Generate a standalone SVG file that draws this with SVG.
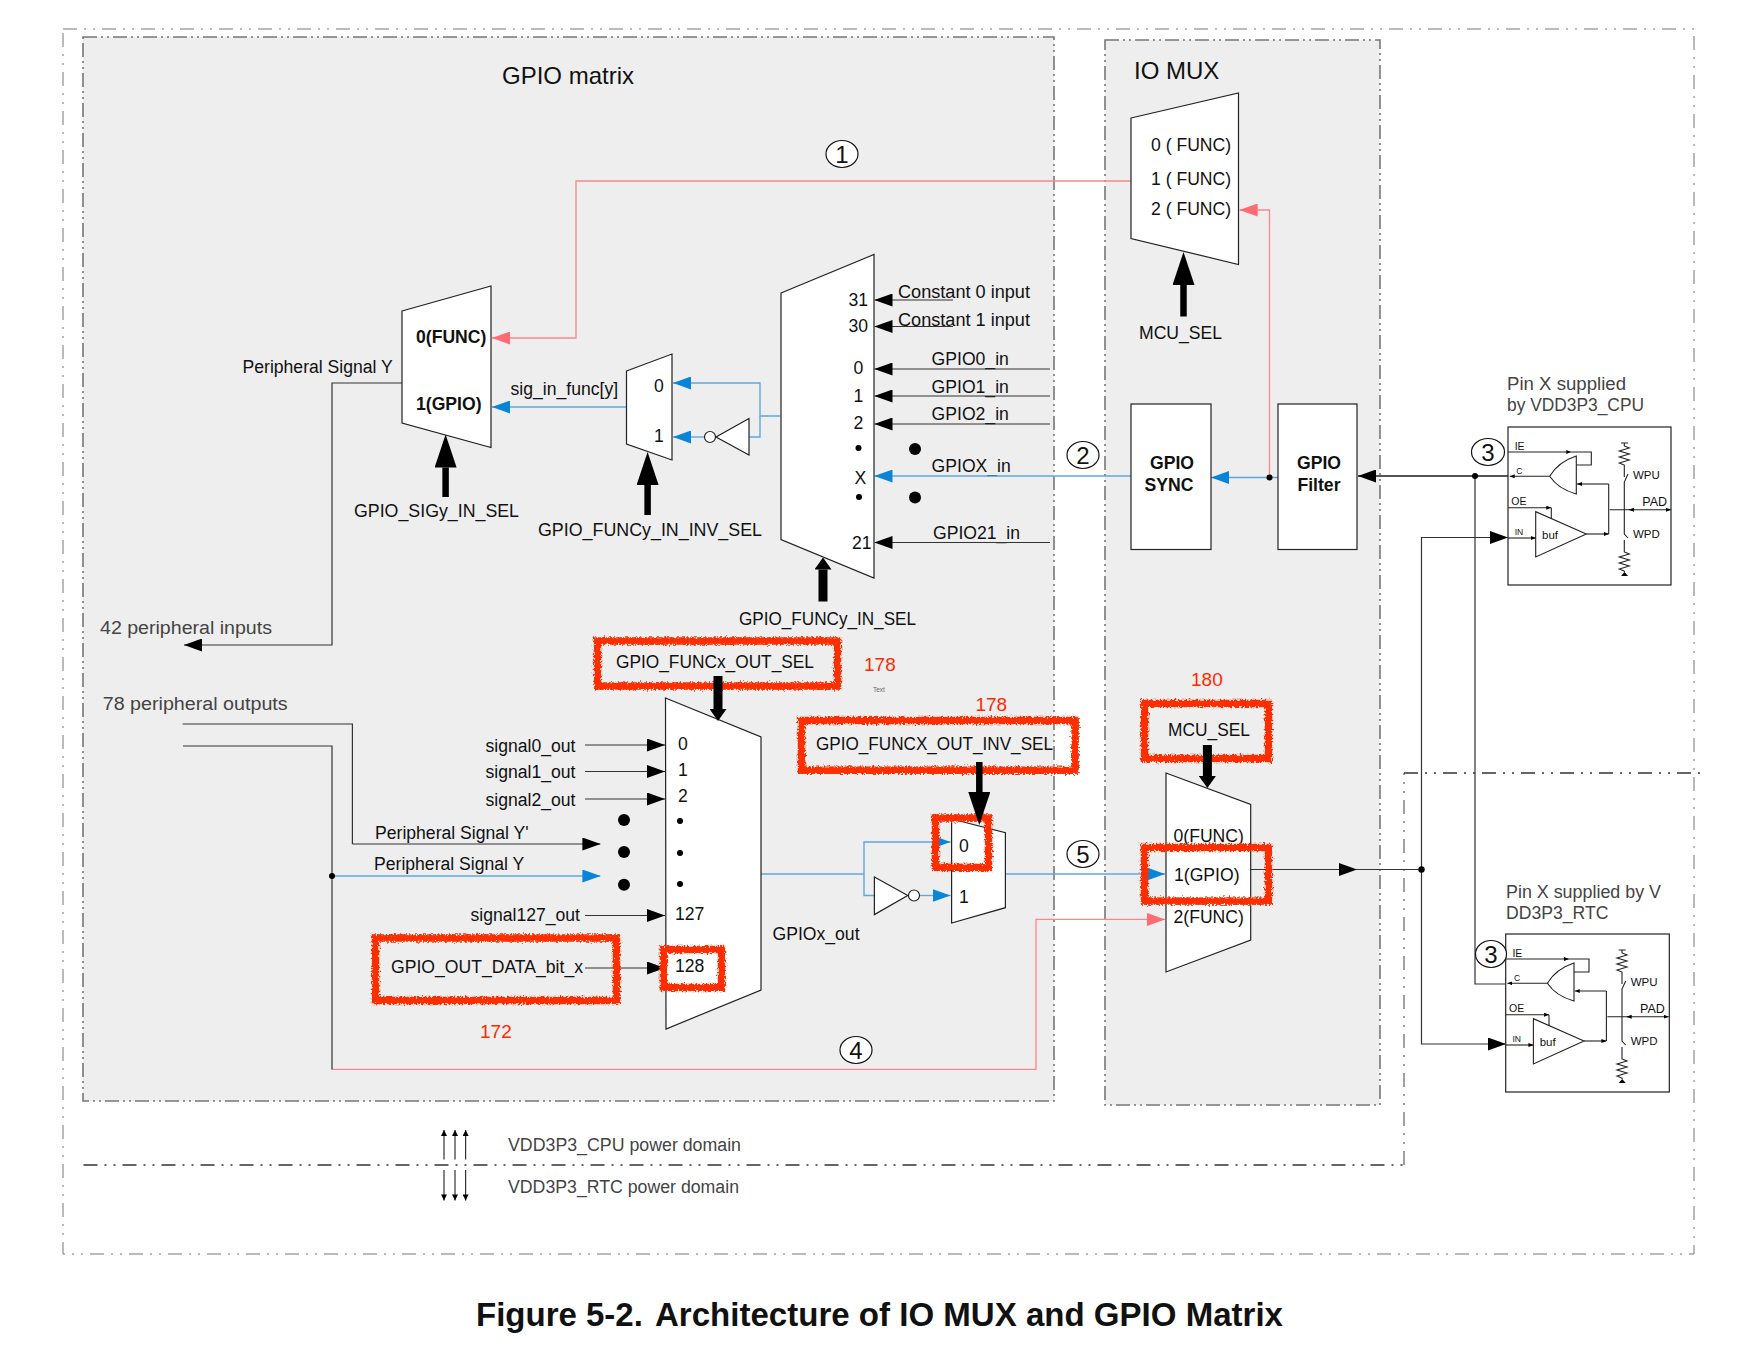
<svg xmlns="http://www.w3.org/2000/svg" width="1740" height="1360" viewBox="0 0 1740 1360">
<style>
text{font-family:"Liberation Sans",Arial,sans-serif;font-size:17.6px;fill:#111}
.b{font-weight:bold}
.g{fill:#444}
.r{fill:#ff2a00;font-size:19px}
.m{text-anchor:middle}
.e{text-anchor:end}
.h{font-size:24px}
.n{font-size:24px;text-anchor:middle}
.mux{fill:#fff;stroke:#222;stroke-width:1.2}
.box{fill:#fff;stroke:#222;stroke-width:1.2}
.reg{fill:#eee;stroke:#777;stroke-width:1.6;stroke-dasharray:14 4 2 4 2 4}
.dom{fill:none;stroke:#777;stroke-width:1;stroke-dasharray:14 7 2 7 2 7}
.k{fill:none;stroke:#333;stroke-width:1.2}
.bl{fill:none;stroke:#5fa8df;stroke-width:1.4}
.pk{fill:none;stroke:#f9888c;stroke-width:1.3}
.ak{marker-end:url(#ak)}
.ab{marker-end:url(#ab)}
.ap{marker-end:url(#ap)}
.tk{fill:none;stroke:#000;stroke-width:6.5;marker-end:url(#tl)}
.ts{fill:none;stroke:#000;stroke-width:9;marker-end:url(#ts)}
.cn{fill:#fff;stroke:#111;stroke-width:1.2}
.c{fill:none;stroke:#222;stroke-width:1.1}
.ct{marker-end:url(#at)}
.s1{font-size:10.5px}
.s2{font-size:8.5px}
.s3{font-size:11.5px}
.s4{font-size:12.5px}
</style>
<defs>
<marker id="ak" viewBox="0 0 18 13" refX="18" refY="6.5" markerWidth="18" markerHeight="13" markerUnits="userSpaceOnUse" orient="auto"><path d="M0 0L18 6.5L0 13z" fill="#000"/></marker>
<marker id="ab" viewBox="0 0 18 13" refX="18" refY="6.5" markerWidth="18" markerHeight="13" markerUnits="userSpaceOnUse" orient="auto"><path d="M0 0L18 6.5L0 13z" fill="#0a84d8"/></marker>
<marker id="ap" viewBox="0 0 18 13" refX="18" refY="6.5" markerWidth="18" markerHeight="13" markerUnits="userSpaceOnUse" orient="auto"><path d="M0 0L18 6.5L0 13z" fill="#ff6b72"/></marker>
<marker id="tl" viewBox="0 0 33 22" refX="0" refY="11" markerWidth="33" markerHeight="22" markerUnits="userSpaceOnUse" orient="auto"><path d="M0 0L33 11L0 22z" fill="#000"/></marker>
<marker id="ts" viewBox="0 0 12 17" refX="0" refY="8.5" markerWidth="12" markerHeight="17" markerUnits="userSpaceOnUse" orient="auto"><path d="M0 0L12 8.5L0 17z" fill="#000"/></marker>
<marker id="at" viewBox="0 0 5 4" refX="5" refY="2" markerWidth="5" markerHeight="4" markerUnits="userSpaceOnUse" orient="auto"><path d="M0 0L5 2L0 4z" fill="#000"/></marker>
<marker id="pw" viewBox="0 0 8 8" refX="8" refY="4" markerWidth="8" markerHeight="6" markerUnits="userSpaceOnUse" orient="auto"><path d="M0 0L8 4L0 8z" fill="#000"/></marker>
<filter id="rough" filterUnits="userSpaceOnUse" x="0" y="0" width="1740" height="1360"><feTurbulence type="fractalNoise" baseFrequency="0.55" numOctaves="2" seed="3"/><feDisplacementMap in="SourceGraphic" scale="6"/></filter>
</defs>
<rect width="1740" height="1360" fill="#fff"/>
<g id="domains">
<rect class="dom" x="63" y="29" width="1631" height="1225"/>
<rect id="gpio-matrix" class="reg" x="83" y="37" width="971" height="1064"/>
<rect id="io-mux" class="reg" x="1105" y="40" width="275" height="1065"/>
<path class="dom" style="stroke:#555;stroke-width:1.1" d="M1404 1165V773"/>
<path class="dom" style="stroke:#333;stroke-width:1.5" d="M83.5 1165H1404"/>
<path class="dom" style="stroke:#333;stroke-width:1.5" d="M1404 773H1702"/>
</g>
<g id="region-labels">
<text class="h" x="502" y="84">GPIO matrix</text>
<text class="h" x="1134" y="79">IO MUX</text>
<text x="354" y="517" textLength="165" lengthAdjust="spacingAndGlyphs">GPIO_SIGy_IN_SEL</text>
<text x="538" y="536" textLength="224" lengthAdjust="spacingAndGlyphs">GPIO_FUNCy_IN_INV_SEL</text>
<text x="739" y="625" textLength="177" lengthAdjust="spacingAndGlyphs">GPIO_FUNCy_IN_SEL</text>
<text x="1139" y="339" textLength="83" lengthAdjust="spacingAndGlyphs">MCU_SEL</text>
<text x="242.5" y="373">Peripheral Signal Y</text>
<text x="510.5" y="395">sig_in_func[y]</text>
<text class="g" x="100" y="634" textLength="172" lengthAdjust="spacingAndGlyphs">42 peripheral inputs</text>
<text class="g" x="102.7" y="709.5" textLength="185" lengthAdjust="spacingAndGlyphs">78 peripheral outputs</text>
<text x="898" y="298" textLength="132" lengthAdjust="spacingAndGlyphs">Constant 0 input</text>
<text x="898" y="326" textLength="132" lengthAdjust="spacingAndGlyphs">Constant 1 input</text>
<text x="931.6" y="365">GPIO0_in</text>
<text x="931.6" y="392.5">GPIO1_in</text>
<text x="931.6" y="420">GPIO2_in</text>
<text x="931.6" y="472">GPIOX_in</text>
<text x="933" y="538.5">GPIO21_in</text>
<text class="e" x="575.5" y="751.5">signal0_out</text>
<text class="e" x="575.5" y="778">signal1_out</text>
<text class="e" x="575.5" y="806">signal2_out</text>
<text class="e" x="580" y="920.7">signal127_out</text>
<text x="375" y="838.7">Peripheral Signal Y'</text>
<text x="374" y="870">Peripheral Signal Y</text>
<text x="391" y="972.7">GPIO_OUT_DATA_bit_x</text>
<text x="616" y="668" textLength="198" lengthAdjust="spacingAndGlyphs">GPIO_FUNCx_OUT_SEL</text>
<text x="816" y="749.5" textLength="237" lengthAdjust="spacingAndGlyphs">GPIO_FUNCX_OUT_INV_SEL</text>
<text x="1168" y="736" textLength="82" lengthAdjust="spacingAndGlyphs">MCU_SEL</text>
<text x="772.5" y="940">GPIOx_out</text>
<text class="r" x="864" y="671">178</text>
<text class="r" x="975.4" y="711">178</text>
<text class="r" x="1191" y="686">180</text>
<text class="r" x="480" y="1038">172</text>
<text x="873" y="692" style="font-size:6.5px;fill:#666">Text</text>
<text class="g" x="508" y="1151" textLength="233" lengthAdjust="spacingAndGlyphs">VDD3P3_CPU power domain</text>
<text class="g" x="508" y="1193" textLength="231" lengthAdjust="spacingAndGlyphs">VDD3P3_RTC power domain</text>
<text class="g" x="1507" y="390" textLength="119" lengthAdjust="spacingAndGlyphs">Pin X supplied</text>
<text class="g" x="1507" y="411" textLength="137" lengthAdjust="spacingAndGlyphs">by VDD3P3_CPU</text>
<text class="g" x="1506" y="898" textLength="155" lengthAdjust="spacingAndGlyphs">Pin X supplied by V</text>
<text class="g" x="1506" y="919">DD3P3_RTC</text>
<text class="b" x="476" y="1326" style="font-size:33px">Figure 5-2.</text>
<text class="b" x="655" y="1326" style="font-size:33px" textLength="628" lengthAdjust="spacingAndGlyphs">Architecture of IO MUX and GPIO Matrix</text>
</g>
<g id="connectors">
<path class="pk ap" d="M1131 181H576V338H492"/>
<path class="pk ap" d="M1269.5 477.5V210H1239.6"/>
<path class="pk ap" d="M332 1069.4H1036V919.4H1165"/>
<path class="k ak" d="M402 383H332V645H184"/>
<path class="bl ab" d="M626.5 407H492"/>
<path class="bl ab" d="M780 416H760V383H673"/>
<path class="bl" d="M760 416V437H749"/>
<path class="bl ab" d="M704 437H673"/>
<path class="k ak" d="M953 300H874.5"/>
<path class="k ak" d="M953 326.5H874.5"/>
<path class="k ak" d="M1050 369H874.5"/>
<path class="k ak" d="M1050 396H874.5"/>
<path class="k ak" d="M1050 424H874.5"/>
<path class="bl ab" d="M1131 476H874.5"/>
<path class="k ak" d="M1050 542.5H874.5"/>
<path class="bl ab" d="M1278 477.5H1211"/>
<path class="k ak" style="stroke:#555;stroke-width:2" d="M1508 476H1358"/>
<path class="k" d="M1475 476V984H1506"/>
<path class="k ak" d="M1421.5 869.5V537.5H1508"/>
<path class="k ak" d="M1421.5 869.5V1044H1506"/>
<path class="k ak" d="M1250.7 869.5H1357"/>
<path class="k" d="M1357 869.5H1421.5"/>
<path class="k" d="M182.6 724H352.4V844"/>
<path class="k ak" d="M352.4 844H600.4"/>
<path class="k" d="M183 746H332V1069.4"/>
<path class="bl ab" d="M332 876H600.4"/>
<path class="k ak" d="M585 745H665"/>
<path class="k ak" d="M585 771.5H665"/>
<path class="k ak" d="M585 799H665"/>
<path class="k ak" d="M585 915.5H665"/>
<path class="k ak" d="M585 968H665"/>
<path class="bl" d="M761 874H864"/>
<path class="bl ab" d="M864 874V842H950.5"/>
<path class="bl" d="M864 874V895.5H874.4"/>
<path class="bl ab" d="M919.5 895.5H950.5"/>
<path class="bl ab" d="M1005.4 874H1165"/>
<path class="k" d="M444 1159.6V1130" style="marker-end:url(#pw)"/>
<path class="k" d="M455 1159.6V1130" style="marker-end:url(#pw)"/>
<path class="k" d="M465.6 1159.6V1130" style="marker-end:url(#pw)"/>
<path class="k" d="M444 1170V1200.4" style="marker-end:url(#pw)"/>
<path class="k" d="M455 1170V1200.4" style="marker-end:url(#pw)"/>
<path class="k" d="M465.6 1170V1200.4" style="marker-end:url(#pw)"/>
<circle cx="1269.5" cy="477.5" r="3"/>
<circle cx="1475" cy="476" r="3"/>
<circle cx="1421.5" cy="869.5" r="3.2"/>
<circle cx="332" cy="876" r="3"/>
</g>
<g id="mux-sig-in"><path class="mux" d="M402 311L491 286V447.5L402 423z"/>
<text class="b" x="416" y="343">0(FUNC)</text><text class="b" x="416" y="410">1(GPIO)</text></g>
<g id="mux-inv-in"><path class="mux" d="M626.5 371L672 354V460L626.5 444z"/>
<text class="m" x="659" y="392">0</text><text class="m" x="659" y="442">1</text></g>
<g id="inv-in"><path class="box" d="M749 418.5V455L716 437z"/><circle class="box" cx="710" cy="437" r="5.5"/></g>
<g id="mux-gpio-in"><path class="mux" d="M781 293L874 254.5V578L781 539.5z"/>
<text x="848.5" y="306">31</text><text x="848.5" y="332">30</text>
<text class="m" x="858.5" y="374">0</text><text class="m" x="858.5" y="402">1</text><text class="m" x="858.5" y="429">2</text>
<circle cx="858.5" cy="448" r="3"/><text x="854.6" y="483.5">X</text><circle cx="859" cy="497" r="3"/>
<text x="852" y="548.5">21</text></g>
<g id="in-dots"><circle cx="915" cy="449" r="6"/><circle cx="915" cy="497.5" r="6"/></g>
<g id="mux-io-in"><path class="mux" d="M1131 118L1238.5 93V264.5L1131 238.5z"/>
<text x="1151" y="151">0 ( FUNC)</text><text x="1151" y="185">1 ( FUNC)</text><text x="1151" y="215">2 ( FUNC)</text></g>
<g id="gpio-sync"><rect class="box" x="1131" y="404" width="80" height="145.5"/>
<text class="b m" x="1172" y="469">GPIO</text><text class="b m" x="1169" y="491">SYNC</text></g>
<g id="gpio-filter"><rect class="box" x="1278" y="404" width="79" height="145.5"/>
<text class="b m" x="1319" y="469">GPIO</text><text class="b m" x="1319" y="491">Filter</text></g>
<g id="mux-out"><path class="mux" d="M665.5 698L761 737V990L666 1029z"/>
<text x="678" y="750">0</text><text x="678" y="776">1</text><text x="678" y="802">2</text>
<circle cx="680" cy="821" r="3"/><circle cx="680" cy="853" r="3"/><circle cx="680" cy="884" r="3"/>
<text x="675" y="920">127</text><text x="675" y="972">128</text></g>
<g id="out-dots"><circle cx="624" cy="820" r="6"/><circle cx="624" cy="852" r="6"/><circle cx="624" cy="884.7" r="6"/></g>
<g id="inv-out"><path class="box" d="M874.4 877V914.6L907.7 895.5z"/><circle class="box" cx="914" cy="895.5" r="5.5"/></g>
<g id="mux-out-inv"><path class="mux" d="M951.6 819L1005.4 832.6V907.7L951.6 923z"/>
<text x="959" y="852">0</text><text x="959" y="902.5">1</text></g>
<g id="mux-io-out"><path class="mux" d="M1166 773L1250.7 804.5V940L1166 972z"/>
<text x="1173.5" y="842">0(FUNC)</text><text x="1174" y="881">1(GPIO)</text><text x="1173.5" y="923">2(FUNC)</text></g>
<g id="pin-cpu" transform="translate(1508 427)">
<rect class="box" width="163" height="158"/>
<text class="s1" x="6.7" y="22.7">IE</text>
<path class="c ct" d="M0 25H63.3"/><path class="c" d="M63.3 25H83.3V38H68.3"/>
<path class="c" d="M68.3 29V67Q50 62 41.7 49.3Q50 35 68.3 29z"/>
<path class="c ct" d="M41.7 49.3H1.7"/><text class="s2" x="8.3" y="47.3">C</text>
<path class="c ct" d="M100.7 57H69"/><path class="c" d="M100.7 57V107"/><path class="c ct" d="M78.3 107H100.7"/>
<path class="c ct" d="M101.7 82.7H163"/><path d="M126 80.7L120.5 82.7L126 84.7z"/>
<path class="c" d="M113 16H120M116.3 16V19l5 2-10 3 10 3-10 3 10 3-10 3 5 2V50M120 47L116.3 55V107L120 111M116.3 113V125l5 2-10 3 10 3-10 3 10 3-10 3 5 2V145"/>
<path d="M113 149H120L116.5 145z"/>
<text class="s3" x="125" y="52.3">WPU</text><text class="s3" x="125" y="111">WPD</text><text class="s4" x="134.3" y="79.3">PAD</text>
<text class="s1" x="3.3" y="78.3">OE</text><path class="c ct" d="M0 80.7H43.3"/><path class="c" d="M43.3 80.7V92"/>
<path class="c ct" d="M0 111H27.7"/><text class="s2" x="6.7" y="108.3">IN</text>
<path class="c" d="M27.7 84.7V130L78.3 107z"/><text class="s3" x="34" y="111.7">buf</text>
</g>
<g id="pin-rtc" transform="translate(1505.7 934)">
<rect class="box" width="163.6" height="158"/>
<text class="s1" x="6.7" y="22.7">IE</text>
<path class="c ct" d="M0 25H63.3"/><path class="c" d="M63.3 25H83.3V38H68.3"/>
<path class="c" d="M68.3 29V67Q50 62 41.7 49.3Q50 35 68.3 29z"/>
<path class="c ct" d="M41.7 49.3H1.7"/><text class="s2" x="8.3" y="47.3">C</text>
<path class="c ct" d="M100.7 57H69"/><path class="c" d="M100.7 57V107"/><path class="c ct" d="M78.3 107H100.7"/>
<path class="c ct" d="M101.7 82.7H163"/><path d="M126 80.7L120.5 82.7L126 84.7z"/>
<path class="c" d="M113 16H120M116.3 16V19l5 2-10 3 10 3-10 3 10 3-10 3 5 2V50M120 47L116.3 55V107L120 111M116.3 113V125l5 2-10 3 10 3-10 3 10 3-10 3 5 2V145"/>
<path d="M113 149H120L116.5 145z"/>
<text class="s3" x="125" y="52.3">WPU</text><text class="s3" x="125" y="111">WPD</text><text class="s4" x="134.3" y="79.3">PAD</text>
<text class="s1" x="3.3" y="78.3">OE</text><path class="c ct" d="M0 80.7H43.3"/><path class="c" d="M43.3 80.7V92"/>
<path class="c ct" d="M0 111H27.7"/><text class="s2" x="6.7" y="108.3">IN</text>
<path class="c" d="M27.7 84.7V130L78.3 107z"/><text class="s3" x="34" y="111.7">buf</text>
</g>
<g id="markers">
<g id="mark-1"><ellipse class="cn" cx="842" cy="154" rx="16" ry="13.5"/><text class="n" x="842" y="162.5">1</text></g>
<g id="mark-2"><ellipse class="cn" cx="1083" cy="455" rx="16" ry="13.5"/><text class="n" x="1083" y="463.5">2</text></g>
<g id="mark-3a"><ellipse class="cn" cx="1488" cy="452" rx="16.5" ry="13.5"/><text class="n" x="1488" y="460.5">3</text></g>
<g id="mark-3b"><ellipse class="cn" cx="1491" cy="954" rx="15.5" ry="13.5"/><text class="n" x="1491" y="962.5">3</text></g>
<g id="mark-4"><ellipse class="cn" cx="856" cy="1050" rx="16" ry="13.5"/><text class="n" x="856" y="1058.5">4</text></g>
<g id="mark-5"><ellipse class="cn" cx="1083" cy="854" rx="16" ry="13.5"/><text class="n" x="1083" y="862.5">5</text></g>
</g>
<g id="annotations" filter="url(#rough)" fill="none" stroke="#ff2e00" stroke-width="7.5">
<rect x="597.5" y="641" width="240" height="45"/>
<rect x="801.5" y="720.5" width="273.6" height="49.7"/>
<rect x="1144.5" y="703.5" width="124" height="55"/>
<rect x="1144.5" y="847.5" width="124" height="53.6"/>
<rect x="935.5" y="818" width="53" height="49.4"/>
<rect x="375.5" y="938" width="241" height="62.5"/>
<rect x="663.5" y="949.5" width="58" height="38"/>
</g>
<g id="select-arrows">
<path class="tk" d="M445.6 497V467.5"/>
<path class="tk" d="M647.6 515V485"/>
<path class="tk" d="M1183.5 316.5V285"/>
<path class="tk" d="M979.3 762V792"/>
<path class="ts" d="M823 601.5V569.5"/>
<path class="ts" d="M718 676V709"/>
<path class="ts" d="M1207.4 745V776"/>
</g>
</svg>
